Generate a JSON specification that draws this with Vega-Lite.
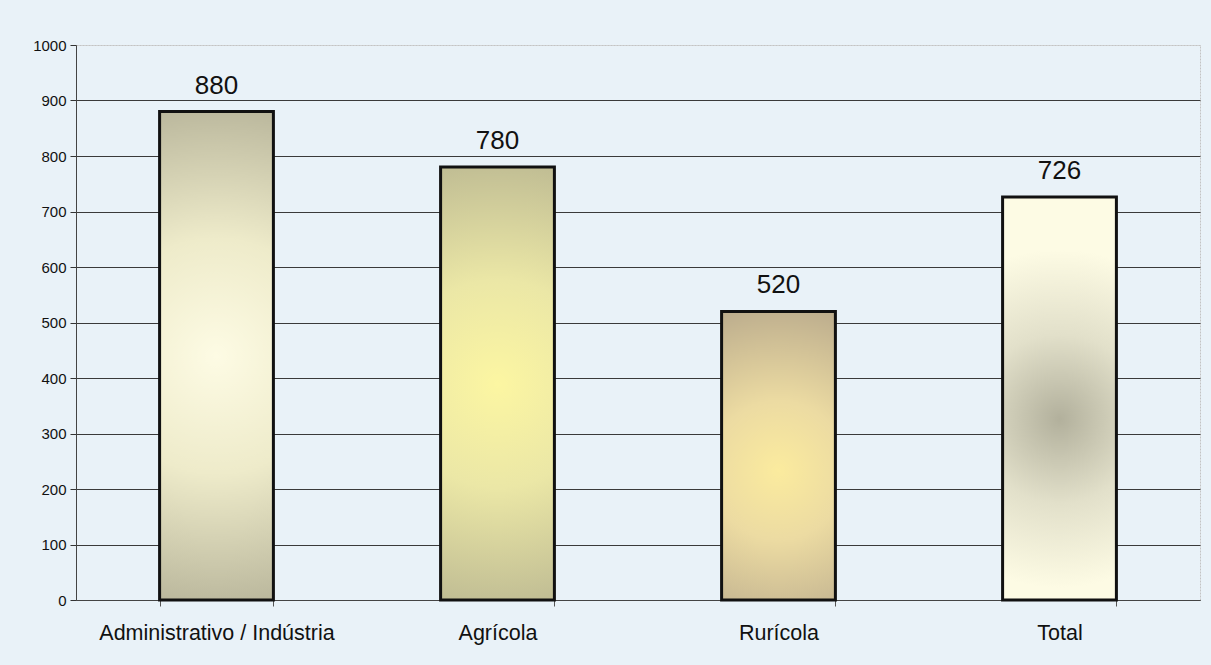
{
  "$schema": "https://vega.github.io/schema/vega-lite/v6.json",
  "width": 1124,
  "height": 555,
  "autosize": {"type": "none"},
  "padding": {"left": 76, "top": 45, "right": 11, "bottom": 65},
  "background": "#e9f2f8",
  "config": {
    "view": {"stroke": "#c4c4c4", "strokeWidth": 1, "strokeDash": [2, 1]},
    "font": "Liberation Sans"
  },
  "data": {
    "values": [
      {"categoria": "Administrativo / Indústria", "valor": 880},
      {"categoria": "Agrícola", "valor": 780},
      {"categoria": "Rurícola", "valor": 520},
      {"categoria": "Total", "valor": 726}
    ]
  },
  "encoding": {
    "x": {
      "field": "categoria",
      "type": "nominal",
      "sort": null,
      "title": null,
      "scale": {"paddingInner": 0.595, "paddingOuter": 0.2975},
      "axis": {
        "labelAngle": 0,
        "labelFontSize": 21.5,
        "labelLimit": 0,
        "labelColor": "#111",
        "labelPadding": 16,
        "tickBand": "extent",
        "tickSize": 6,
        "tickColor": "#555",
        "domainColor": "#444",
        "grid": false
      }
    },
    "y": {
      "field": "valor",
      "type": "quantitative",
      "title": null,
      "scale": {"domain": [0, 1000], "nice": false},
      "axis": {
        "values": [0, 100, 200, 300, 400, 500, 600, 700, 800, 900, 1000],
        "format": "d",
        "labelFontSize": 15,
        "labelColor": "#111",
        "labelPadding": 4,
        "tickSize": 6,
        "tickColor": "#333",
        "domainColor": "#444",
        "grid": true,
        "gridColor": {"condition": {"test": "datum.value === 1000", "value": "#c4c4c4"}, "value": "#3a3a3a"},
        "gridDash": {"condition": {"test": "datum.value === 1000", "value": [2, 1]}, "value": []},
        "gridWidth": 1,
        "gridOpacity": 1
      }
    }
  },
  "layer": [
    {
      "transform": [{"filter": "datum.categoria === 'Administrativo / Indústria'"}],
      "mark": {
        "type": "bar",
        "stroke": "#111",
        "strokeWidth": 3,
        "color": {
          "gradient": "radial",
          "x1": 0.5, "y1": 0.5, "r1": 0,
          "x2": 0.5, "y2": 0.5, "r2": 0.6,
          "stops": [
            {"offset": 0, "color": "#fdfbe4"},
            {"offset": 0.4, "color": "#eeebca"},
            {"offset": 1, "color": "#aaa78e"}
          ]
        }
      }
    },
    {
      "transform": [{"filter": "datum.categoria === 'Agrícola'"}],
      "mark": {
        "type": "bar",
        "stroke": "#111",
        "strokeWidth": 3,
        "color": {
          "gradient": "radial",
          "x1": 0.5, "y1": 0.5, "r1": 0,
          "x2": 0.5, "y2": 0.5, "r2": 0.6,
          "stops": [
            {"offset": 0, "color": "#fcf6a2"},
            {"offset": 0.4, "color": "#ebe7a6"},
            {"offset": 1, "color": "#b3b08e"}
          ]
        }
      }
    },
    {
      "transform": [{"filter": "datum.categoria === 'Rurícola'"}],
      "mark": {
        "type": "bar",
        "stroke": "#111",
        "strokeWidth": 3,
        "color": {
          "gradient": "radial",
          "x1": 0.5, "y1": 0.55, "r1": 0,
          "x2": 0.5, "y2": 0.55, "r2": 0.6,
          "stops": [
            {"offset": 0, "color": "#fbeb9e"},
            {"offset": 0.4, "color": "#ecdba2"},
            {"offset": 1, "color": "#b9aa8c"}
          ]
        }
      }
    },
    {
      "transform": [{"filter": "datum.categoria === 'Total'"}],
      "mark": {
        "type": "bar",
        "stroke": "#111",
        "strokeWidth": 3,
        "color": {
          "gradient": "radial",
          "x1": 0.5, "y1": 0.55, "r1": 0,
          "x2": 0.5, "y2": 0.55, "r2": 0.42,
          "stops": [
            {"offset": 0, "color": "#b2b09c"},
            {"offset": 0.5, "color": "#e2e0ca"},
            {"offset": 1, "color": "#fdfbe4"}
          ]
        }
      }
    },
    {
      "mark": {
        "type": "text",
        "baseline": "alphabetic",
        "dy": -18,
        "fontSize": 26,
        "color": "#111"
      },
      "encoding": {"text": {"field": "valor", "type": "quantitative"}}
    }
  ]
}
